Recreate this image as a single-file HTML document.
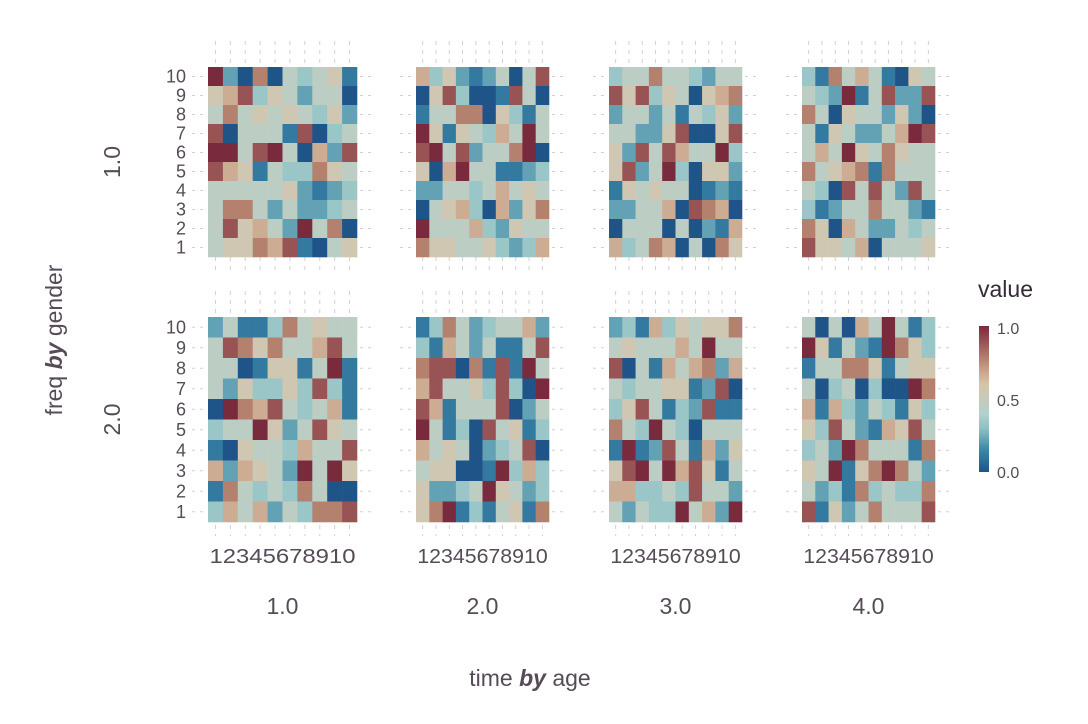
<!DOCTYPE html>
<html><head><meta charset="utf-8"><style>
html,body{margin:0;padding:0;background:#fff;}
svg{display:block;font-family:"Liberation Sans","DejaVu Sans",sans-serif;}
</style></head><body>
<svg id="chart" width="1088" height="724" viewBox="0 0 1088 724" xmlns="http://www.w3.org/2000/svg">
<g id="grid"></g>
<g id="tiles"></g>
<g id="labels"></g>
<text transform="translate(62,340) rotate(-90)" text-anchor="middle" font-size="23" fill="#564c57">freq <tspan font-weight="bold" font-style="italic">by</tspan> gender</text>
<text x="530" y="686" text-anchor="middle" font-size="23" fill="#564c57">time <tspan font-weight="bold" font-style="italic">by</tspan> age</text>
<text x="978" y="297" font-size="23" fill="#362a35">value</text>
<defs><linearGradient id="lg" x1="0" y1="1" x2="0" y2="0"></linearGradient></defs>
<rect x="979" y="326" width="10" height="146" fill="url(#lg)"/>
<text x="997" y="334" font-size="16" fill="#564c57">1.0</text>
<text x="997" y="406" font-size="16" fill="#564c57">0.5</text>
<text x="997" y="478" font-size="16" fill="#564c57">0.0</text>
</svg>
<script>
const ageLevels = ["1.0","2.0","3.0","4.0"];
const genderLevels = ["1.0","2.0"];
const timeTicks = [1,2,3,4,5,6,7,8,9,10];
const freqTicks = [1,2,3,4,5,6,7,8,9,10];
// values in ninths, rows listed from freq 10 (top) to freq 1
const g1a1 = [[9,2,0,7,0,4,3,4,5,1],[5,6,8,3,5,4,2,4,4,0],[4,7,4,5,4,5,4,3,5,2],[8,0,4,4,4,1,8,0,3,4],[9,9,4,8,9,4,0,6,2,8],[8,6,5,1,4,3,3,7,5,4],[4,4,4,4,4,5,2,1,2,3],[4,7,7,4,2,4,2,2,3,4],[4,8,5,6,4,2,9,4,7,0],[4,5,5,7,6,8,1,0,4,5]];
const g1a2 = [[6,3,5,2,1,2,4,0,4,8],[0,5,8,3,0,0,1,8,4,0],[1,4,4,7,7,0,5,3,1,4],[9,5,1,5,4,3,6,4,9,4],[8,9,4,8,2,4,4,7,9,0],[5,0,6,9,4,4,1,1,2,3],[2,2,4,4,3,4,6,4,5,4],[0,4,5,6,3,0,6,2,5,7],[9,4,4,4,6,3,2,5,4,4],[7,5,5,4,4,5,3,2,3,6]];
const g1a3 = [[3,4,4,7,4,4,3,2,4,4],[8,5,8,3,5,4,0,5,6,7],[2,4,4,2,4,1,4,3,5,2],[4,4,2,2,5,8,0,0,5,8],[5,2,8,4,8,6,4,4,9,3],[5,8,2,4,9,3,0,5,5,2],[1,5,4,5,4,4,0,1,2,1],[2,2,4,4,6,0,8,7,6,0],[0,4,4,4,0,4,0,2,1,6],[6,3,4,7,6,0,4,0,7,5]];
const g1a4 = [[3,1,7,4,6,4,1,0,5,4],[4,3,2,9,1,4,8,2,2,8],[7,4,0,5,4,4,2,5,2,0],[4,1,5,4,2,2,4,6,9,8],[4,6,4,9,5,4,7,5,4,4],[7,4,5,6,7,1,7,4,4,4],[4,3,0,8,4,8,4,2,8,4],[3,1,2,4,4,7,4,4,2,1],[7,5,0,6,4,2,2,4,3,4],[8,5,5,4,6,0,4,4,4,5]];
const g2a1 = [[2,4,1,1,3,7,4,5,4,4],[4,8,7,5,7,4,4,6,8,4],[4,4,0,1,5,5,1,4,9,1],[4,2,5,3,3,5,3,8,3,1],[0,9,7,6,8,4,3,4,6,1],[3,4,4,9,5,2,4,8,5,4],[1,0,5,4,4,3,6,4,4,8],[6,2,6,5,4,2,9,4,9,5],[1,7,4,3,4,3,7,4,0,0],[3,6,4,6,2,4,3,7,7,8]];
const g2a2 = [[1,3,7,4,2,3,4,4,6,2],[3,1,6,4,2,4,1,1,4,8],[7,8,8,0,7,1,8,1,9,4],[6,8,4,4,5,3,8,3,0,9],[8,6,1,4,4,4,8,0,2,4],[9,4,1,3,0,8,4,5,1,3],[6,4,5,4,0,2,3,4,8,0],[4,5,5,0,0,1,9,3,6,3],[5,2,2,3,4,9,5,4,2,3],[5,7,9,1,3,1,4,5,1,7]];
const g2a3 = [[2,3,1,6,3,5,4,5,5,7],[4,5,4,4,4,6,4,9,4,4],[8,0,4,1,6,4,6,7,2,6],[4,3,4,4,5,5,1,2,8,0],[3,5,8,4,1,3,2,8,1,1],[7,4,3,9,4,3,0,4,4,4],[1,9,1,2,8,4,1,6,2,5],[5,8,9,4,9,6,8,5,1,4],[6,6,3,3,4,3,8,4,4,2],[4,2,4,3,3,9,4,6,2,9]];
const g2a4 = [[4,0,4,0,6,4,9,4,1,3],[9,5,1,4,2,1,9,7,5,3],[1,4,4,7,7,5,1,4,5,5],[4,0,3,4,0,3,0,0,9,7],[6,1,6,3,2,4,3,1,5,3],[5,3,8,4,2,1,6,5,8,4],[3,4,2,9,7,4,4,4,1,7],[5,4,9,1,5,7,9,7,4,2],[4,2,3,1,7,3,4,3,3,7],[8,1,5,2,4,7,4,4,4,8]];
const panelData = [[g1a1,g1a2,g1a3,g1a4],[g2a1,g2a2,g2a3,g2a4]];

const stops=[[0,"#1f5489"],[0.15,"#3a86a8"],[0.3,"#8fc0c4"],[0.4,"#b3d1cc"],[0.5,"#c7c9bb"],[0.6,"#d5c6a9"],[0.7,"#c8a088"],[0.8,"#b07868"],[0.9,"#955053"],[1,"#7a2a3d"]];
function hx(c){return [1,3,5].map(i=>parseInt(c.substr(i,2),16));}
function color(v){for(let i=1;i<stops.length;i++){if(v<=stops[i][0]){const a=stops[i-1],b=stops[i];const t=(v-a[0])/(b[0]-a[0]);const A=hx(a[1]),B=hx(b[1]);return "rgb("+A.map((x,k)=>Math.round(x+(B[k]-x)*t)).join(",")+")";}}return stops[stops.length-1][1];}
const NS="http://www.w3.org/2000/svg";
const lg=document.getElementById("lg");
stops.forEach(s=>{const st=document.createElementNS(NS,"stop");st.setAttribute("offset",s[0]);st.setAttribute("stop-color",s[1]);lg.appendChild(st);});
const colX=[[208,357],[416,549],[609,742],[802,935]];
const rowY=[[67,257],[317,522]];
const G=document.getElementById("grid"),T=document.getElementById("tiles"),L=document.getElementById("labels");
function mk(tag,attrs,parent){const e=document.createElementNS(NS,tag);for(const k in attrs)e.setAttribute(k,attrs[k]);parent.appendChild(e);return e;}
for(let r=0;r<2;r++){for(let c=0;c<4;c++){
 const x0=colX[c][0],x1=colX[c][1],y0=rowY[r][0],y1=rowY[r][1];
 const cw=(x1-x0)/timeTicks.length,ch=(y1-y0)/freqTicks.length;
 const xs=t=>x0+(t-0.5)*cw, ys=f=>y1-(f-0.5)*ch;
 freqTicks.forEach(f=>{const l=mk("line",{x1:x0-16,x2:x1+16,y1:ys(f),y2:ys(f),stroke:"#d0d0dc","stroke-width":1,"stroke-dasharray":"3,5"},G);
  
  });
 timeTicks.forEach(t=>{const l=mk("line",{x1:xs(t),x2:xs(t),y1:y0-26,y2:y1+14,stroke:"#d0d0dc","stroke-width":1,"stroke-dasharray":"4,5"},G);
  
  });
 const data=panelData[r][c];
 data.forEach((row,i)=>{const f=freqTicks.length-i;row.forEach((v,j)=>{const t=timeTicks[j];
  const rc=mk("rect",{x:xs(t)-cw/2,y:ys(f)-ch/2,width:cw+0.3,height:ch+0.3,fill:color(v/9)},T);
  
  });});
 if(c===0){freqTicks.forEach(f=>{const tx=mk("text",{x:186,y:ys(f)+6,"text-anchor":"end","font-size":18,fill:"#564c57"},L);tx.textContent=f;
  
  });}
 if(r===1){const cx=(x0+x1)/2;const tx=mk("text",{x:cx,y:563,"text-anchor":"middle","font-size":20,fill:"#564c57",textLength:(x1-x0)*0.98,lengthAdjust:"spacingAndGlyphs"},L);tx.textContent=timeTicks.join("");
  
  
  const fx=mk("text",{x:cx,y:614,"text-anchor":"middle","font-size":23,fill:"#564c57"},L);fx.textContent=ageLevels[c];
  
  }
 }
 const gy=(rowY[r][0]+rowY[r][1])/2;
 const gl=mk("text",{transform:"translate(120,"+gy+") rotate(-90)","text-anchor":"middle","font-size":23,fill:"#564c57"},L);gl.textContent=genderLevels[r];
 
 
}
</script>
</body></html>
